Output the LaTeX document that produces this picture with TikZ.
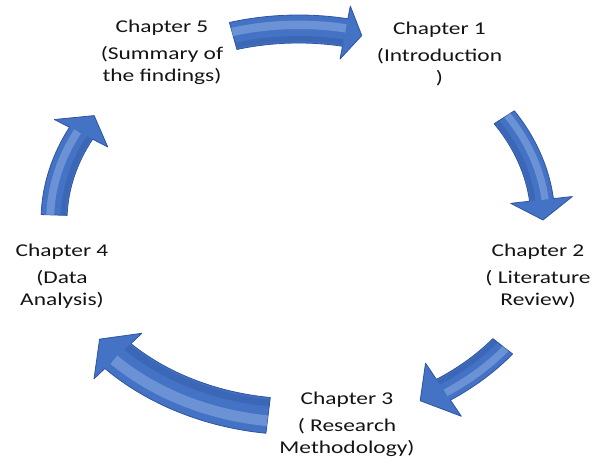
\documentclass[tikz,border=0pt]{standalone}
\usepackage{fontspec}
\setmainfont[FakeStretch=1.3]{Carlito}
\usetikzlibrary{calc}
\definecolor{arrowblue}{HTML}{4472C4}
\definecolor{arrowedge}{HTML}{2F55A0}
\definecolor{arrowshine}{HTML}{A8C4F2}
\definecolor{labeltext}{HTML}{141414}

\begin{document}
\begin{tikzpicture}[
  x=0.5pt, y=0.5pt,
  chapter/.style={inner sep=0pt, anchor=base, align=center, text=labeltext,
                  font=\fontsize{9}{11}\selectfont},
  cyclearrow/.style={fill=arrowblue, draw=arrowedge, line width=0.4pt, line join=round},
  shine/.style={draw=arrowshine, opacity=0.4},
  shade/.style={draw=arrowedge, opacity=0.35}
]
  \useasboundingbox (0,0) rectangle (598,466);
  \coordinate (c) at (298.5,245);

  % Chapters (placed by the baseline of their last line)
  \node[chapter] (ch1) at (439.5,382) {Chapter 1\\[2.5pt](Introduction\\)};
  \node[chapter] (ch2) at (538,161) {Chapter 2\\[2.5pt]( Literature\\Review)};
  \node[chapter] (ch3) at (347,13) {Chapter 3\\[2.5pt]( Research\\Methodology)};
  \node[chapter] (ch4) at (62,161) {Chapter 4\\[2.5pt](Data\\Analysis)};
  \node[chapter] (ch5) at (162,384) {Chapter 5\\[2.5pt](Summary of\\the findings)};

  % Arrows round the cycle: start, neck, tip angle / scale / half body / half head
  \foreach \tstart/\tneck/\ttip/\rs/\bw/\hw in {
      105.5/79/75/1/14/27,
      32.7/6.3/0.3/1/12/31,
      -38/-56/-62/1.06/12.5/32,
      -97/-136.4/-142.9/1.02/18/33,
      178.2/152.8/146.7/1/13/30}{
    \pgfmathsetmacro\arx{\rs*244.5}
    \pgfmathsetmacro\ary{\rs*192}
    \filldraw[cyclearrow]
      ($(c)+(\tstart:{\arx+\bw} and {\ary+\bw})$)
      arc[start angle=\tstart, end angle=\tneck, x radius=\arx+\bw, y radius=\ary+\bw]
      -- ($(c)+(\tneck:{\arx+\hw} and {\ary+\hw})$)
      -- ($(c)+(\ttip:{\arx} and {\ary})$)
      -- ($(c)+(\tneck:{\arx-\hw} and {\ary-\hw})$)
      -- ($(c)+(\tneck:{\arx-\bw} and {\ary-\bw})$)
      arc[start angle=\tneck, end angle=\tstart, x radius=\arx-\bw, y radius=\ary-\bw]
      -- cycle;
    \draw[shine, line width=0.3*\bw]
      ($(c)+(\tstart:{\arx+0.3*\bw} and {\ary+0.3*\bw})$)
      arc[start angle=\tstart, end angle=\tneck, x radius=\arx+0.3*\bw, y radius=\ary+0.3*\bw];
    \draw[shade, line width=0.2*\bw]
      ($(c)+(\tstart:{\arx-0.7*\bw} and {\ary-0.7*\bw})$)
      arc[start angle=\tstart, end angle=\tneck, x radius=\arx-0.7*\bw, y radius=\ary-0.7*\bw];
  }
\end{tikzpicture}
\end{document}
